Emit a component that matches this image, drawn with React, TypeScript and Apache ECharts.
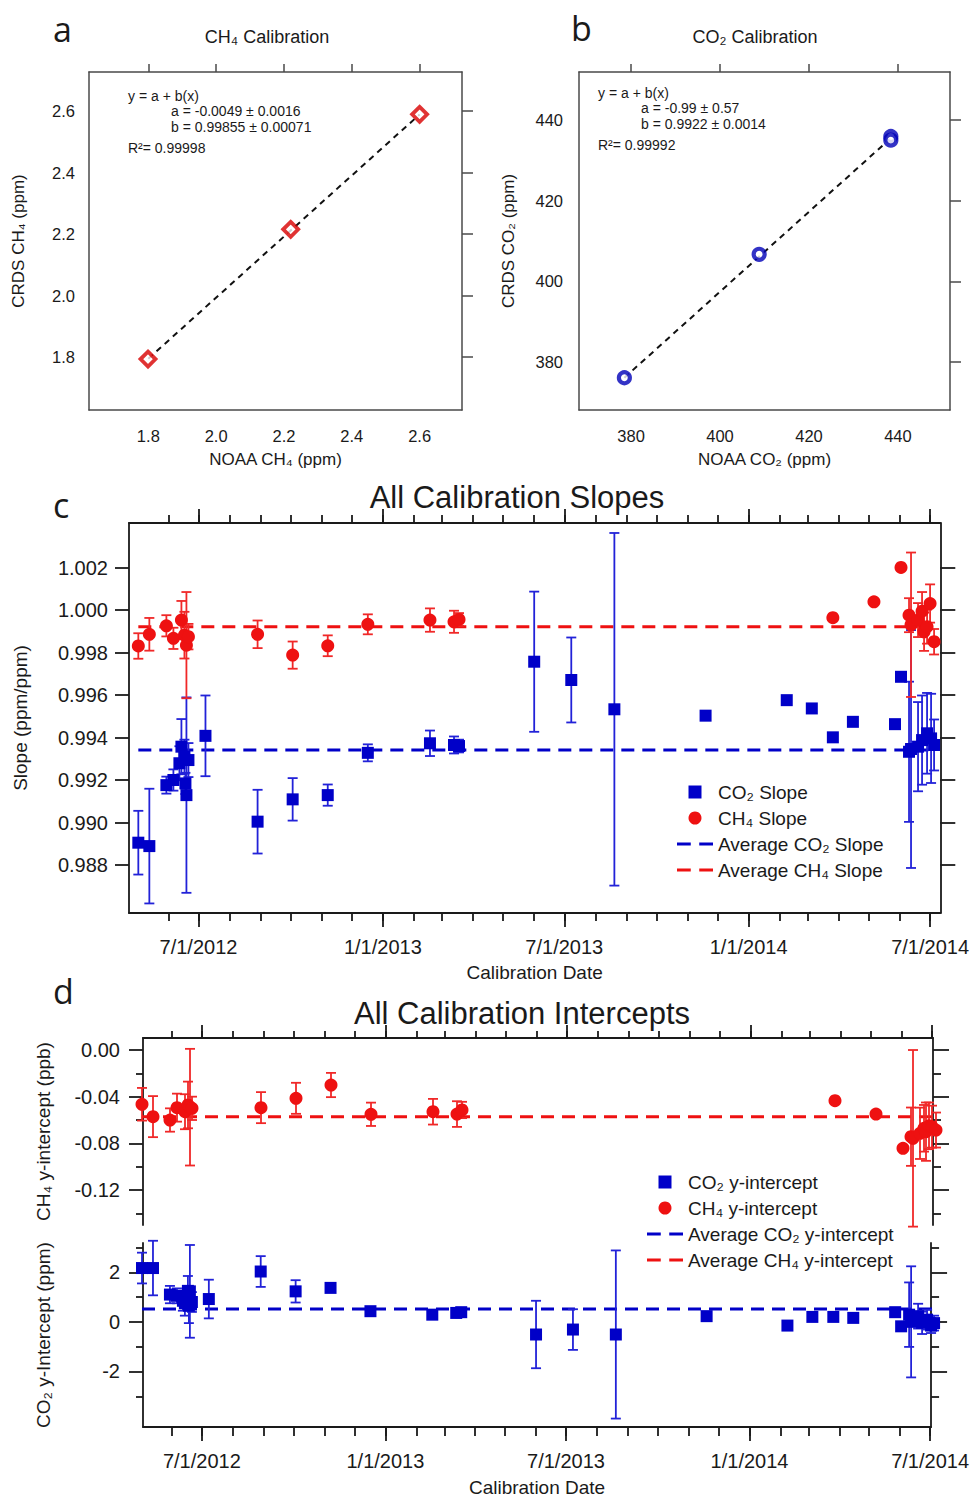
import React, { useEffect, useRef } from 'react';
import * as echarts from 'echarts';

const FONT = '"Liberation Sans", Arial, Helvetica, sans-serif';
const LETTER_FONT = '"Open Sans", "Noto Sans", sans-serif';
const INK = '#1a1a1a';
const FRAME_AB = '#4a4a4a';
const RED = '#ee1111';
const BLUE = '#0000c8';
const RED_BAR = '#f02828';
const BLUE_BAR = '#2222d8';
const DAY = 86400000;

// ---------- Panel a : CH4 calibration ----------
const ch4NoaaPpm = [1.799, 2.2198, 2.6];
const ch4CrdsPpm = [1.7935, 2.2153, 2.5893];
const ch4FitX = [1.8, 2.6];
const ch4FitY = [1.795, 2.589];
const ch4AxisTicks = [1.8, 2.0, 2.2, 2.4, 2.6];
const ch4FitText = ['y = a + b(x)', 'a = -0.0049 ± 0.0016', 'b = 0.99855 ± 0.00071', 'R²= 0.99998'];

// ---------- Panel b : CO2 calibration ----------
const co2NoaaPpm = [378.5, 408.8, 438.4, 438.4];
const co2CrdsPpm = [376.1, 406.7, 435.9, 435.0];
const co2FitX = [378.5, 438.4];
const co2FitY = [376.1, 435.5];
const co2AxisTicks = [380, 400, 420, 440];
const co2FitText = ['y = a + b(x)', 'a = -0.99 ± 0.57', 'b = 0.9922 ± 0.0014', 'R²= 0.99992'];

// ---------- Panels c / d : CO2 calibrations ----------
const co2Dates = [
  '2012-05-02', '2012-05-13', '2012-05-30', '2012-06-06', '2012-06-12', '2012-06-14', '2012-06-17',
  '2012-06-18', '2012-06-19', '2012-06-21', '2012-07-08', '2012-08-29', '2012-10-03', '2012-11-07',
  '2012-12-17', '2013-02-17', '2013-03-13', '2013-03-18', '2013-06-01', '2013-07-08', '2013-08-20',
  '2013-11-19', '2014-02-08', '2014-03-05', '2014-03-26', '2014-04-15', '2014-05-27', '2014-06-02',
  '2014-06-10', '2014-06-12', '2014-06-19', '2014-06-23', '2014-06-28', '2014-07-02', '2014-07-05',
];
const co2Slope = [
  0.98905, 0.98889, 0.99176, 0.992, 0.99279, 0.99357, 0.9931,
  0.99184, 0.99129, 0.99294, 0.99408, 0.99004, 0.99109, 0.99129,
  0.99328, 0.99373, 0.99365, 0.9936, 0.99757, 0.99671, 0.99533,
  0.99503, 0.99576, 0.99537, 0.99401, 0.99474, 0.99463, 0.99686,
  0.99333, 0.99346, 0.99357, 0.99388, 0.9942, 0.99396, 0.99365,
];
const co2SlopeErr = [
  0.0015, 0.0027, 0.0004, 0.0005, 0.0008, 0.0013, 0.0008,
  0.0005, 0.0046, 0.0008, 0.0019, 0.0015, 0.001, 0.0005,
  0.0004, 0.0006, 0.0004, 0.0003, 0.0033, 0.002, 0.0083,
  0, 0, 0, 0, 0, 0, 0,
  0.0033, 0.0056, 0.0021, 0.0021, 0.0019, 0.0021, 0.0012,
];
const co2Intercept = [
  2.17, 2.17, 1.1, 1.05, 0.85, 0.75, 1.25,
  0.65, 1.23, 0.8, 0.92, 2.03, 1.23, 1.37,
  0.43, 0.29, 0.36, 0.39, -0.51, -0.31, -0.51,
  0.23, -0.15, 0.2, 0.2, 0.16, 0.39, -0.18,
  0.29, 0.0, 0.23, -0.04, 0.09, -0.15, -0.05,
];
const co2InterceptErr = [
  0.62, 1.1, 0.35, 0.3, 0.4, 0.5, 0.6,
  0.7, 1.87, 0.4, 0.78, 0.62, 0.45, 0,
  0, 0, 0, 0, 1.36, 0.82, 3.39,
  0, 0, 0, 0, 0, 0, 0,
  1.3, 2.24, 0.5, 0.45, 0.4, 0.3, 0.3,
];

// ---------- Panels c / d : CH4 calibrations ----------
const ch4Dates = [
  '2012-05-02', '2012-05-13', '2012-05-30', '2012-06-06', '2012-06-14', '2012-06-17', '2012-06-19',
  '2012-06-21', '2012-08-29', '2012-10-03', '2012-11-07', '2012-12-17', '2013-02-17', '2013-03-13',
  '2013-03-18', '2014-03-26', '2014-05-06', '2014-06-02', '2014-06-10', '2014-06-12', '2014-06-19',
  '2014-06-23', '2014-06-25', '2014-06-28', '2014-07-01', '2014-07-05',
];
const ch4Slope = [
  0.99831, 0.99886, 0.99926, 0.99867, 0.99953, 0.99882, 0.99835,
  0.99875, 0.99886, 0.99788, 0.99832, 0.99933, 0.99953, 0.99945,
  0.99956, 0.99964, 1.00039, 1.00201, 0.99976, 0.99931, 0.99953,
  0.99995, 0.99898, 0.99922, 1.00031, 0.99851,
];
const ch4SlopeErr = [
  0.0006, 0.00077, 0.0005, 0.0005, 0.0009, 0.0011, 0.0025,
  0.0006, 0.00065, 0.00064, 0.00049, 0.00047, 0.00055, 0.00052,
  0.0003, 0, 0, 0, 0.0008, 0.0034, 0.0008,
  0.0009, 0.0009, 0.0008, 0.0009, 0.0006,
];
const ch4Intercept = [
  -0.0465, -0.0571, -0.06, -0.0494, -0.0529, -0.0471, -0.049,
  -0.05, -0.0494, -0.0414, -0.03, -0.0551, -0.0529, -0.0549,
  -0.0514, -0.0434, -0.0549, -0.0843, -0.0743, -0.0757, -0.0714,
  -0.0671, -0.07, -0.065, -0.0657, -0.0686,
];
const ch4InterceptErr = [
  0.014, 0.0176, 0.01, 0.012, 0.015, 0.02, 0.05,
  0.01, 0.0133, 0.0133, 0.0104, 0.01, 0.011, 0.011,
  0.007, 0, 0, 0, 0.025, 0.0757, 0.022,
  0.02, 0.025, 0.02, 0.018, 0.015,
];

const avgCo2Slope = 0.99341;
const avgCh4Slope = 0.99922;
const avgCo2Intercept = 0.52;
const avgCh4Intercept = -0.0571;
const avgLineDates = ['2012-05-02', '2014-07-05'];

// ---------- tick values ----------
const slopeTicks = [0.988, 0.99, 0.992, 0.994, 0.996, 0.998, 1.0, 1.002];
const ch4IntMajorTicks = [0, -0.04, -0.08, -0.12];
const ch4IntMinorTicks = [-0.02, -0.06, -0.1, -0.14];
const co2IntMajorTicks = [2, 0, -2];
const co2IntMinorTicks = [3, 1, -1, -3];
const dateMajorTicks = ['2012-07-01', '2013-01-01', '2013-07-01', '2014-01-01', '2014-07-01'];

const ts = (s: string) => Date.parse(s + 'T00:00:00Z');
const majorTs = dateMajorTicks.map(ts);
const monthTs: number[] = [];
for (let y = 2012, m = 5; y < 2014 || (y === 2014 && m <= 6); ) {
  monthTs.push(Date.UTC(y, m, 1));
  m++;
  if (m > 11) { m = 0; y++; }
}
const dateFmt = (v: number) => {
  const d = new Date(v);
  return `${d.getUTCMonth() + 1}/${d.getUTCDate()}/${d.getUTCFullYear()}`;
};

const cMin = ts('2012-07-01') - 69.3 * DAY;
const cMax = ts('2014-07-01') + 10.2 * DAY;
const dMin = ts('2012-07-01') - 59 * DAY;
const dMax = ts('2014-07-01') + 1 * DAY;

// legend icons (square marker, dashed line)
const SQUARE_ICON = 'path://M0,0h13v13h-13z';
const DASH_ICON = 'path://M0,0h13v3h-13zM21,0h13v3h-13z';

type AxOpt = {
  grid: number; pos: string; min: number; max: number; ticks?: number[]; tickLen?: number;
  labels?: boolean; fmt?: (v: number) => string; line?: boolean; lineW?: number; color?: string;
  labelSize?: number; labelMargin?: number; name?: string; nameGap?: number; nameSize?: number;
};
function axis(o: AxOpt) {
  const color = o.color ?? INK;
  const w = o.lineW ?? 1.8;
  const a: any = {
    type: 'value', gridIndex: o.grid, position: o.pos, min: o.min, max: o.max,
    splitLine: { show: false }, splitArea: { show: false },
    axisLine: { show: o.line !== false, onZero: false, lineStyle: { color, width: w } },
    axisTick: { show: !!o.tickLen, length: o.tickLen || 0, inside: false, customValues: o.ticks, lineStyle: { color, width: w } },
    axisLabel: { show: !!o.labels, customValues: o.ticks, formatter: o.fmt, margin: o.labelMargin ?? 8, fontSize: o.labelSize ?? 20, color: INK, fontFamily: FONT },
    axisPointer: { show: false },
  };
  if (o.name) {
    a.name = o.name; a.nameLocation = 'middle'; a.nameGap = o.nameGap;
    a.nameTextStyle = { fontSize: o.nameSize ?? 19, color: INK, fontFamily: FONT };
  }
  return a;
}

function errorBars(name: string, xi: number, yi: number, dates: string[], vals: number[], errs: number[], color: string) {
  return {
    type: 'custom', name, xAxisIndex: xi, yAxisIndex: yi, z: 2, silent: true,
    data: dates.map((d, i) => [ts(d), vals[i], errs[i]]),
    encode: { x: 0, y: 1 },
    renderItem: (_p: any, api: any) => {
      const x = api.value(0), y = api.value(1), e = api.value(2);
      if (!e) return { type: 'group', children: [] };
      const hi = api.coord([x, y + e]);
      const lo = api.coord([x, y - e]);
      const s = { stroke: color, lineWidth: 1.8 };
      const hw = 5;
      return {
        type: 'group', children: [
          { type: 'line', shape: { x1: hi[0], y1: hi[1], x2: lo[0], y2: lo[1] }, style: s },
          { type: 'line', shape: { x1: hi[0] - hw, y1: hi[1], x2: hi[0] + hw, y2: hi[1] }, style: s },
          { type: 'line', shape: { x1: lo[0] - hw, y1: lo[1], x2: lo[0] + hw, y2: lo[1] }, style: s },
        ],
      };
    },
  };
}

function points(name: string, xi: number, yi: number, dates: string[], vals: number[], symbol: string, color: string) {
  return {
    type: 'scatter', name, xAxisIndex: xi, yAxisIndex: yi, z: 3, clip: false, silent: true,
    symbol, symbolSize: symbol === 'circle' ? 13 : 12, itemStyle: { color, opacity: 1 },
    data: dates.map((d, i) => [ts(d), vals[i]]),
  };
}

function avgLine(name: string, xi: number, yi: number, value: number, color: string) {
  return {
    type: 'line', name, xAxisIndex: xi, yAxisIndex: yi, z: 1, silent: true,
    symbol: 'none', itemStyle: { color },
    lineStyle: { color, width: 3, type: [13, 8] },
    data: avgLineDates.map((d) => [ts(d), value]),
  };
}

function txt(text: string, x: number, y: number, size: number, align = 'left', font = FONT) {
  return {
    type: 'text', x, y, silent: true,
    style: {
      text, fontSize: size, fontFamily: font, fill: INK,
      align, verticalAlign: 'middle', textAlign: align, textVerticalAlign: 'middle',
    },
  };
}

function legendItems(names: string[]) {
  return [
    { name: names[0], icon: SQUARE_ICON, itemStyle: { color: BLUE } },
    { name: names[1], icon: 'circle', itemStyle: { color: RED } },
    { name: names[2], icon: DASH_ICON, itemStyle: { color: BLUE } },
    { name: names[3], icon: DASH_ICON, itemStyle: { color: RED } },
  ];
}

function buildOption(): any {
  const xAxis = [
    // panel a
    axis({ grid: 0, pos: 'bottom', min: 1.625, max: 2.725, ticks: ch4AxisTicks, labels: true, fmt: (v) => v.toFixed(1), labelSize: 16.5, labelMargin: 17, name: 'NOAA CH₄ (ppm)', nameGap: 41, nameSize: 17, color: FRAME_AB, lineW: 1.5 }),
    axis({ grid: 0, pos: 'top', min: 1.625, max: 2.725, ticks: ch4AxisTicks, tickLen: 8, color: FRAME_AB, lineW: 1.5 }),
    // panel b
    axis({ grid: 1, pos: 'bottom', min: 368.3, max: 451.7, ticks: co2AxisTicks, labels: true, fmt: (v) => String(v), labelSize: 16.5, labelMargin: 17, name: 'NOAA CO₂ (ppm)', nameGap: 41, nameSize: 17, color: FRAME_AB, lineW: 1.5 }),
    axis({ grid: 1, pos: 'top', min: 368.3, max: 451.7, ticks: co2AxisTicks, tickLen: 8, color: FRAME_AB, lineW: 1.5 }),
    // panel c
    axis({ grid: 2, pos: 'bottom', min: cMin, max: cMax, ticks: majorTs, tickLen: 14, labels: true, fmt: dateFmt, labelMargin: 24, name: 'Calibration Date', nameGap: 50 }),
    axis({ grid: 2, pos: 'bottom', min: cMin, max: cMax, ticks: monthTs, tickLen: 8, line: false }),
    axis({ grid: 2, pos: 'top', min: cMin, max: cMax, ticks: majorTs, tickLen: 14 }),
    axis({ grid: 2, pos: 'top', min: cMin, max: cMax, ticks: monthTs, tickLen: 8, line: false }),
    // panel d (top grid)
    axis({ grid: 3, pos: 'top', min: dMin, max: dMax, ticks: majorTs, tickLen: 13 }),
    axis({ grid: 3, pos: 'top', min: dMin, max: dMax, ticks: monthTs, tickLen: 7, line: false }),
    // panel d (bottom grid)
    axis({ grid: 4, pos: 'bottom', min: dMin, max: dMax, ticks: majorTs, tickLen: 14, labels: true, fmt: dateFmt, labelMargin: 24, name: 'Calibration Date', nameGap: 51 }),
    axis({ grid: 4, pos: 'bottom', min: dMin, max: dMax, ticks: monthTs, tickLen: 9, line: false }),
  ];
  const yAxis = [
    // panel a
    axis({ grid: 0, pos: 'left', min: 1.628, max: 2.727, ticks: ch4AxisTicks, labels: true, fmt: (v) => v.toFixed(1), labelSize: 16.5, labelMargin: 14, name: 'CRDS CH₄ (ppm)', nameGap: 62, nameSize: 17, color: FRAME_AB, lineW: 1.5 }),
    axis({ grid: 0, pos: 'right', min: 1.628, max: 2.727, ticks: ch4AxisTicks, tickLen: 11, color: FRAME_AB, lineW: 1.5 }),
    // panel b
    axis({ grid: 1, pos: 'left', min: 368.1, max: 451.9, ticks: co2AxisTicks, labels: true, fmt: (v) => String(v), labelSize: 16.5, labelMargin: 16, name: 'CRDS CO₂ (ppm)', nameGap: 62, nameSize: 17, color: FRAME_AB, lineW: 1.5 }),
    axis({ grid: 1, pos: 'right', min: 368.1, max: 451.9, ticks: co2AxisTicks, tickLen: 11, color: FRAME_AB, lineW: 1.5 }),
    // panel c
    axis({ grid: 2, pos: 'left', min: 0.98574, max: 1.0041, ticks: slopeTicks, tickLen: 14, labels: true, fmt: (v) => v.toFixed(3), labelMargin: 21, name: 'Slope (ppm/ppm)', nameGap: 99 }),
    axis({ grid: 2, pos: 'right', min: 0.98574, max: 1.0041, ticks: slopeTicks, tickLen: 15 }),
    // panel d CH4 intercept
    axis({ grid: 3, pos: 'left', min: -0.15, max: 0.0103, ticks: ch4IntMajorTicks, tickLen: 14, labels: true, fmt: (v) => (Math.abs(v) < 1e-9 ? '0.00' : v.toFixed(2)), labelMargin: 23, name: 'CH₄ y-intercept (ppb)', nameGap: 90 }),
    axis({ grid: 3, pos: 'left', min: -0.15, max: 0.0103, ticks: ch4IntMinorTicks, tickLen: 7, line: false }),
    axis({ grid: 3, pos: 'right', min: -0.15, max: 0.0103, ticks: ch4IntMajorTicks, tickLen: 16 }),
    axis({ grid: 3, pos: 'right', min: -0.15, max: 0.0103, ticks: ch4IntMinorTicks, tickLen: 8, line: false }),
    // panel d CO2 intercept
    axis({ grid: 4, pos: 'left', min: -4.24, max: 3.18, ticks: co2IntMajorTicks, tickLen: 14, labels: true, fmt: (v) => String(v), labelMargin: 23, name: 'CO₂ y-Intercept (ppm)', nameGap: 90 }),
    axis({ grid: 4, pos: 'left', min: -4.24, max: 3.18, ticks: co2IntMinorTicks, tickLen: 7, line: false }),
    axis({ grid: 4, pos: 'right', min: -4.24, max: 3.18, ticks: co2IntMajorTicks, tickLen: 16 }),
    axis({ grid: 4, pos: 'right', min: -4.24, max: 3.18, ticks: co2IntMinorTicks, tickLen: 8, line: false }),
  ];

  const series: any[] = [
    // panel a
    {
      type: 'line', name: 'CH₄ fit', xAxisIndex: 0, yAxisIndex: 0, symbol: 'none', silent: true, z: 1,
      lineStyle: { color: '#111', width: 2, type: [6, 5] },
      data: ch4FitX.map((x, i) => [x, ch4FitY[i]]),
    },
    {
      type: 'scatter', name: 'CH₄ standards', xAxisIndex: 0, yAxisIndex: 0, symbol: 'diamond', symbolSize: 15, z: 3, silent: true,
      itemStyle: { color: '#ffffff', borderColor: '#d80000', borderWidth: 3.8 },
      data: ch4NoaaPpm.map((x, i) => [x, ch4CrdsPpm[i]]),
    },
    // panel b
    {
      type: 'line', name: 'CO₂ fit', xAxisIndex: 2, yAxisIndex: 2, symbol: 'none', silent: true, z: 1,
      lineStyle: { color: '#111', width: 2, type: [6, 5] },
      data: co2FitX.map((x, i) => [x, co2FitY[i]]),
    },
    {
      type: 'scatter', name: 'CO₂ standards', xAxisIndex: 2, yAxisIndex: 2, symbol: 'circle', symbolSize: 11, z: 3, silent: true,
      itemStyle: { color: '#ffffff', borderColor: '#0000b8', borderWidth: 4.2 },
      data: co2NoaaPpm.map((x, i) => [x, co2CrdsPpm[i]]),
    },
    // panel c
    avgLine('Average CO₂ Slope', 4, 4, avgCo2Slope, BLUE),
    avgLine('Average CH₄ Slope', 4, 4, avgCh4Slope, RED),
    errorBars('CO₂ Slope error', 4, 4, co2Dates, co2Slope, co2SlopeErr, BLUE_BAR),
    errorBars('CH₄ Slope error', 4, 4, ch4Dates, ch4Slope, ch4SlopeErr, RED_BAR),
    points('CO₂ Slope', 4, 4, co2Dates, co2Slope, 'rect', BLUE),
    points('CH₄ Slope', 4, 4, ch4Dates, ch4Slope, 'circle', RED),
    // panel d
    avgLine('Average CH₄ y-intercept', 8, 6, avgCh4Intercept, RED),
    avgLine('Average CO₂ y-intercept', 10, 10, avgCo2Intercept, BLUE),
    errorBars('CH₄ y-intercept error', 8, 6, ch4Dates, ch4Intercept, ch4InterceptErr, RED_BAR),
    errorBars('CO₂ y-intercept error', 10, 10, co2Dates, co2Intercept, co2InterceptErr, BLUE_BAR),
    points('CO₂ y-intercept', 10, 10, co2Dates, co2Intercept, 'rect', BLUE),
    points('CH₄ y-intercept', 8, 6, ch4Dates, ch4Intercept, 'circle', RED),
  ];

  const legendBase = {
    orient: 'vertical', itemWidth: 36, itemHeight: 13, itemGap: 6, selectedMode: false, symbolKeepAspect: true,
    textStyle: { fontSize: 19, color: INK, fontFamily: FONT, lineHeight: 20 },
  };

  const graphic = [
    txt('a', 53, 29, 34, 'left', LETTER_FONT),
    txt('b', 571, 28, 34, 'left', LETTER_FONT),
    txt('c', 53, 505, 34, 'left', LETTER_FONT),
    txt('d', 53, 991, 34, 'left', LETTER_FONT),
    txt('CH₄ Calibration', 267, 37, 18, 'center'),
    txt('CO₂ Calibration', 755, 37, 18, 'center'),
    txt('All Calibration Slopes', 517, 497, 31, 'center'),
    txt('All Calibration Intercepts', 522, 1013, 31, 'center'),
    txt(ch4FitText[0], 128, 96, 14),
    txt(ch4FitText[1], 171, 111, 14),
    txt(ch4FitText[2], 171, 127, 14),
    txt(ch4FitText[3], 128, 148, 14),
    txt(co2FitText[0], 598, 93, 14),
    txt(co2FitText[1], 641, 108, 14),
    txt(co2FitText[2], 641, 124, 14),
    txt(co2FitText[3], 598, 145, 14),
  ];

  return {
    animation: false,
    backgroundColor: '#ffffff',
    textStyle: { fontFamily: FONT },
    grid: [
      { left: 89, top: 72, width: 373, height: 338 },
      { left: 579, top: 72, width: 371, height: 338 },
      { left: 129, top: 523, width: 814, height: 390 },
      { left: 143, top: 1038, width: 790, height: 187 },
      { left: 143, top: 1243, width: 790, height: 185 },
    ],
    xAxis,
    yAxis,
    legend: [
      { ...legendBase, left: 672, top: 777, data: legendItems(['CO₂ Slope', 'CH₄ Slope', 'Average CO₂ Slope', 'Average CH₄ Slope']) },
      { ...legendBase, left: 642, top: 1167, data: legendItems(['CO₂ y-intercept', 'CH₄ y-intercept', 'Average CO₂ y-intercept', 'Average CH₄ y-intercept']) },
    ],
    graphic,
    series,
  };
}

export default function App() {
  const ref = useRef<HTMLDivElement>(null);
  useEffect(() => {
    if (!ref.current) return;
    const chart = echarts.init(ref.current, null, { renderer: 'svg' });
    chart.setOption(buildOption());
    return () => chart.dispose();
  }, []);
  return (
    <div
      ref={ref}
      style={{ position: 'absolute', left: 0, top: 0, width: 972, height: 1498, background: '#ffffff' }}
    />
  );
}
